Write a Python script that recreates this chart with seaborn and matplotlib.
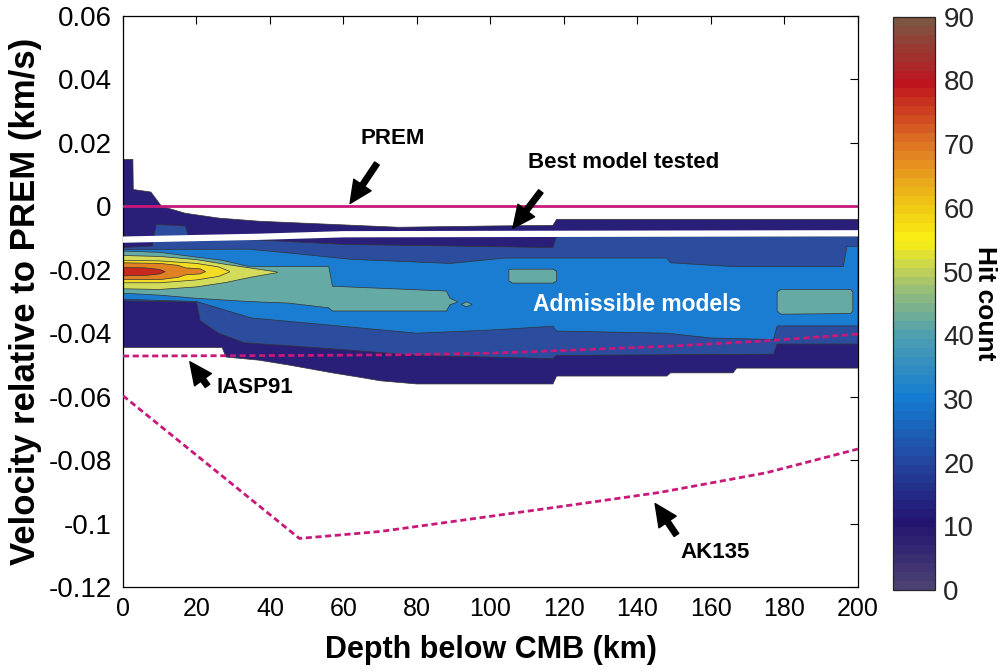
import numpy as np
import matplotlib
matplotlib.use("Agg")
import matplotlib.pyplot as plt
from matplotlib.colors import LinearSegmentedColormap, Normalize
from matplotlib.cm import ScalarMappable
import seaborn as sns

# ---- hit-count bands (outermost first): depth nodes in km, edges in km/s ----
navy_top_x = [0, 2.7, 2.8, 7.6, 10.5, 17, 26, 37, 57, 75, 100, 117, 118, 200]
navy_top_v = [0.0148, 0.0148, 0.0053, 0.0045, 0.0000, -0.0022, -0.0037, -0.0047,
              -0.0057, -0.0066, -0.0062, -0.0060, -0.0041, -0.0041]
navy_bot_x = [0, 27, 28, 37, 45, 57, 65, 70, 80, 117, 118, 148, 149, 166, 167, 200]
navy_bot_v = [-0.0445, -0.0445, -0.0475, -0.0485, -0.0500, -0.0525, -0.0540, -0.0550,
              -0.0560, -0.0560, -0.0535, -0.0535, -0.0525, -0.0525, -0.0510, -0.0510]

dblue_top_x = [0, 8, 9, 17, 18, 35, 60, 117, 118, 200]
dblue_top_v = [-0.0130, -0.0125, -0.0057, -0.0062, -0.0105, -0.0105, -0.0120, -0.0130,
               -0.0094, -0.0094]
dblue_bot_x = [0, 20, 21, 26, 33, 58, 80, 117, 118, 177, 178, 200]
dblue_bot_v = [-0.0298, -0.0302, -0.0360, -0.0400, -0.0430, -0.0450, -0.0470, -0.0480,
               -0.0470, -0.0466, -0.0434, -0.0434]

blue_top_x = [0, 34, 46, 62, 89, 104, 148, 149, 166, 196, 197, 200]
blue_top_v = [-0.0136, -0.0135, -0.0148, -0.0167, -0.0180, -0.0163, -0.0163, -0.0178,
              -0.0190, -0.0190, -0.0126, -0.0126]
blue_bot_x = [0, 20, 35, 54, 80, 100, 117, 118, 148, 160, 177, 178, 200]
blue_bot_v = [-0.0293, -0.0300, -0.0352, -0.0372, -0.0400, -0.0390, -0.0378, -0.0393,
              -0.0400, -0.0415, -0.0420, -0.0377, -0.0377]

teal_x = [0, 10, 20, 27, 34, 45, 56, 57, 88, 89, 91]
teal_top = [-0.0141, -0.0145, -0.0160, -0.0170, -0.0189, -0.0190, -0.0190, -0.0252,
            -0.0267, -0.0290, -0.0300]
teal_bot = [-0.0274, -0.0280, -0.0290, -0.0295, -0.0300, -0.0305, -0.0320, -0.0330,
            -0.0330, -0.0310, -0.0302]
teal_blob1_x = [105, 106, 117, 118]
teal_blob1_top = [-0.0200, -0.0198, -0.0198, -0.0205]
teal_blob1_bot = [-0.0235, -0.0242, -0.0242, -0.0235]
teal_blob2_x = [92, 93.5, 95]
teal_blob2_top = [-0.0309, -0.0301, -0.0309]
teal_blob2_bot = [-0.0309, -0.0317, -0.0309]
teal_blob3_x = [178, 179, 198, 198.6]
teal_blob3_top = [-0.0270, -0.0262, -0.0262, -0.0270]
teal_blob3_bot = [-0.0330, -0.0340, -0.0338, -0.0330]

ygreen_x = [0, 10, 20, 28, 35, 42]
ygreen_top = [-0.0155, -0.0158, -0.0168, -0.0183, -0.0195, -0.0207]
ygreen_bot = [-0.0260, -0.0262, -0.0254, -0.0240, -0.0223, -0.0209]

yellow_x = [0, 10, 20, 26, 29]
yellow_top = [-0.0170, -0.0172, -0.0180, -0.0191, -0.0205]
yellow_bot = [-0.0241, -0.0241, -0.0232, -0.0221, -0.0207]

orange_x = [0, 10, 15, 17, 21, 22.5]
orange_top = [-0.0178, -0.0180, -0.0186, -0.0194, -0.0197, -0.0206]
orange_bot = [-0.0231, -0.0231, -0.0224, -0.0216, -0.0213, -0.0206]

red_x = [0, 6, 10, 11.5]
red_top = [-0.0193, -0.0194, -0.0199, -0.0206]
red_bot = [-0.0219, -0.0218, -0.0213, -0.0206]

# ---- reference models ----
prem_depth = [0, 200]
prem_v = [0.0, 0.0]
iasp91_depth = [0, 25, 50, 75, 100, 125, 150, 175, 200]
iasp91_v = [-0.0472, -0.0471, -0.0470, -0.0468, -0.0463, -0.0452, -0.0440, -0.0424, -0.0403]
ak135_depth = [0, 48, 70, 92, 120, 146, 175, 200]
ak135_v = [-0.0597, -0.1047, -0.1025, -0.0990, -0.0945, -0.0902, -0.0840, -0.0765]
best_depth = [0, 20, 37, 60, 200]
best_v = [-0.0105, -0.0100, -0.0096, -0.0088, -0.0085]

cbar_ticks = [0, 10, 20, 30, 40, 50, 60, 70, 80, 90]
cmap_nodes = [0, 10, 20, 30, 40, 47, 50, 55, 60, 70, 80, 90]
cmap_colors = ["#4b4173", "#231470", "#2346a0", "#147dd2", "#50a0af", "#96be78",
               "#bece5a", "#faf014", "#f0cd14", "#e07823", "#be141e", "#7d5541"]

MAGENTA = "#c8187a"
EDGE = "#333333"

sns.set_style("white")
plt.rcParams["font.family"] = ["Liberation Sans", "DejaVu Sans"]
plt.rcParams["axes.unicode_minus"] = False
plt.rcParams["text.color"] = "black"
plt.rcParams["axes.labelcolor"] = "black"

fig = plt.figure(figsize=(10.03, 6.72), dpi=100)
ax = fig.add_axes([0.1226, 0.1265, 0.7328, 0.8497])


def band(xt, vt, xb, vb, color):
    xs = list(xt) + list(xb)[::-1]
    vs = list(vt) + list(vb)[::-1]
    ax.fill(xs, vs, facecolor=color, edgecolor=EDGE, linewidth=0.5, zorder=2)


band(navy_top_x, navy_top_v, navy_bot_x, navy_bot_v, "#2a1f78")
band(dblue_top_x, dblue_top_v, dblue_bot_x, dblue_bot_v, "#2c4c9e")
band(blue_top_x, blue_top_v, blue_bot_x, blue_bot_v, "#1a7dd2")
band(teal_x, teal_top, teal_x, teal_bot, "#66aaa6")
band(teal_blob1_x, teal_blob1_top, teal_blob1_x, teal_blob1_bot, "#66aaa6")
band(teal_blob2_x, teal_blob2_top, teal_blob2_x, teal_blob2_bot, "#66aaa6")
band(teal_blob3_x, teal_blob3_top, teal_blob3_x, teal_blob3_bot, "#66aaa6")
band(ygreen_x, ygreen_top, ygreen_x, ygreen_bot, "#d2dc5a")
band(yellow_x, yellow_top, yellow_x, yellow_bot, "#f2dc24")
band(orange_x, orange_top, orange_x, orange_bot, "#e08224")
band(red_x, red_top, red_x, red_bot, "#c8281e")

sns.lineplot(x=best_depth, y=best_v, ax=ax, color="white", linewidth=4.5, zorder=3)
sns.lineplot(x=prem_depth, y=prem_v, ax=ax, color=MAGENTA, linewidth=2.0, zorder=4)
sns.lineplot(x=iasp91_depth, y=iasp91_v, ax=ax, color=MAGENTA, linewidth=2.0,
             linestyle=(0, (2.2, 1.3)), zorder=4)
sns.lineplot(x=ak135_depth, y=ak135_v, ax=ax, color=MAGENTA, linewidth=2.0,
             linestyle=(0, (2.2, 1.3)), zorder=4)

ax.set_xlim(0, 200)
ax.set_ylim(-0.12, 0.06)
ax.set_xticks(range(0, 201, 20))
ax.set_yticks(np.arange(-0.12, 0.0601, 0.02))
ax.set_yticklabels(["%g" % round(t, 2) for t in np.arange(-0.12, 0.0601, 0.02)])
ax.tick_params(direction="in", top=True, right=True, length=6, width=0.8,
               colors="black")
ax.tick_params(axis="x", labelsize=18, pad=7)
ax.tick_params(axis="y", labelsize=20, pad=8)
for s in ax.spines.values():
    s.set_color("black")
    s.set_linewidth(0.9)
ax.set_xlabel("Depth below CMB (km)", fontsize=22, fontweight="bold", labelpad=10)
ax.set_ylabel("Velocity relative to PREM (km/s)", fontsize=25, fontweight="bold",
              labelpad=5)

arrow = dict(facecolor="black", edgecolor="black", width=4, headwidth=15,
             headlength=16, shrink=0)
ax.annotate("", xy=(61.8, 0.0009), xytext=(69.1, 0.0135), arrowprops=arrow, zorder=6)
ax.annotate("", xy=(106.1, -0.0069), xytext=(113.7, 0.0047), arrowprops=arrow, zorder=6)
ax.annotate("", xy=(18.2, -0.0490), xytext=(23.0, -0.0566), arrowprops=arrow, zorder=6)
ax.annotate("", xy=(144.8, -0.0937), xytext=(150.6, -0.1036), arrowprops=arrow, zorder=6)

txt = dict(fontsize=16, fontweight="bold", ha="center", va="center", zorder=6)
ax.text(73.5, 0.0214, "PREM", **txt)
ax.text(136.1, 0.0138, "Best model tested", **txt)
ax.text(36.0, -0.0572, "IASP91", **txt)
ax.text(161.0, -0.1090, "AK135", **txt)
ax.text(140.0, -0.0308, "Admissible models", color="white", fontsize=16.5,
        fontweight="bold", ha="center", va="center", zorder=6)

cmap = LinearSegmentedColormap.from_list(
    "hits", [(n / 90, c) for n, c in zip(cmap_nodes, cmap_colors)], N=64)
cax = fig.add_axes([0.8903, 0.122, 0.0419, 0.853])
cb = fig.colorbar(ScalarMappable(norm=Normalize(0, 90), cmap=cmap), cax=cax)
cb.set_ticks(cbar_ticks)
cb.ax.tick_params(direction="in", left=True, right=True, length=5, width=0.8,
                  labelsize=20, pad=6)
cb.outline.set_linewidth(0.9)
cax.text(2.2, 0.5, "Hit count", transform=cax.transAxes, rotation=270,
         fontsize=19, fontweight="bold", ha="center", va="center")

fig.savefig("out.png", dpi=100)
